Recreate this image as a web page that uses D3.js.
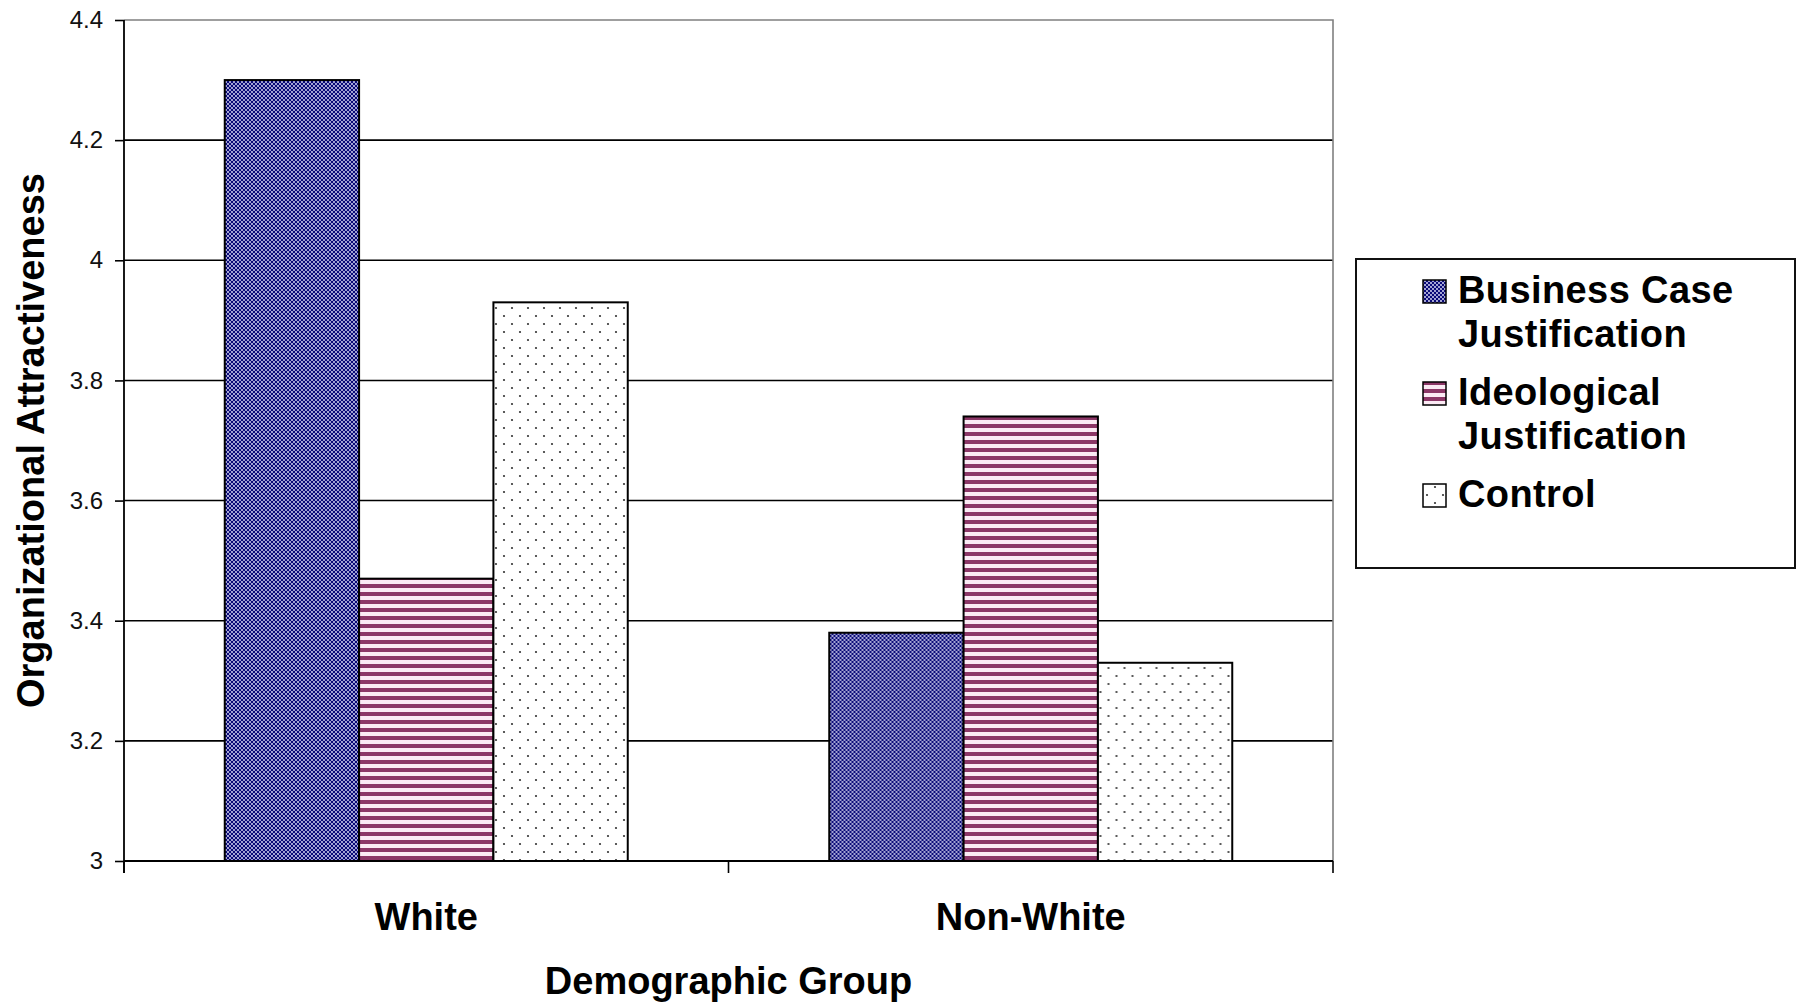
<!DOCTYPE html>
<html>
<head>
<meta charset="utf-8">
<script src="https://cdn.jsdelivr.net/npm/d3@7"></script>
<style>
  html, body { margin: 0; padding: 0; background: #fff; }
  svg { display: block; font-family: "Liberation Sans", Arial, sans-serif; }
</style>
</head>
<body>
<svg id="chart" width="1797" height="1003"></svg>
<script>
// Mean organizational attractiveness by demographic group and justification condition
const categories = ["White", "Non-White"];
const series = ["Business Case Justification", "Ideological Justification", "Control"];
const businessCase = [4.30, 3.38];
const ideological = [3.47, 3.74];
const control = [3.93, 3.33];
const yTicks = [3, 3.2, 3.4, 3.6, 3.8, 4, 4.2, 4.4];
const yTickLabels = ["3", "3.2", "3.4", "3.6", "3.8", "4", "4.2", "4.4"];
const legendLines = [["Business Case", "Justification"], ["Ideological", "Justification"], ["Control"]];
const yTitle = "Organizational Attractiveness";
const xTitle = "Demographic Group";

const seriesValues = [businessCase, ideological, control];
const rows = categories.map((c, i) => ({
  category: c,
  values: series.map((s, j) => ({ key: s, idx: j, value: seriesValues[j][i] }))
}));

const svg = d3.select("#chart");
const plot = { left: 124, right: 1333, top: 20, bottom: 861 };

// Fill patterns for the three conditions
const defs = svg.append("defs");
const pDiamond = defs.append("pattern").attr("id", "pat0")
  .attr("patternUnits", "userSpaceOnUse").attr("width", 4).attr("height", 4);
pDiamond.append("rect").attr("width", 4).attr("height", 4).attr("fill", "#0a0a78");
[[0, 0], [4, 0], [0, 4], [4, 4], [2, 2]].forEach(([cx, cy]) =>
  pDiamond.append("circle").attr("cx", cx).attr("cy", cy).attr("r", 0.9).attr("fill", "#ececff"));

const pStripe = defs.append("pattern").attr("id", "pat1")
  .attr("patternUnits", "userSpaceOnUse").attr("width", 8).attr("height", 8);
pStripe.append("rect").attr("width", 8).attr("height", 8).attr("fill", "#fbeaf4");
pStripe.append("rect").attr("y", 0).attr("width", 8).attr("height", 4).attr("fill", "#8c3767");

const pDots = defs.append("pattern").attr("id", "pat2")
  .attr("patternUnits", "userSpaceOnUse").attr("width", 16).attr("height", 16);
pDots.append("rect").attr("width", 16).attr("height", 16).attr("fill", "#ffffff");
[[4, 4], [12, 12]].forEach(([cx, cy]) =>
  pDots.append("circle").attr("cx", cx).attr("cy", cy).attr("r", 1.1).attr("fill", "#333"));

// Scales
const y = d3.scaleLinear().domain([3, 4.4]).range([plot.bottom, plot.top]);
const x0 = d3.scaleBand().domain(categories).range([plot.left, plot.right]).padding(0);
const x1 = d3.scaleBand().domain(series).range([0, x0.bandwidth()])
  .paddingInner(0).paddingOuter(0.75);

// Gridlines
svg.append("g").selectAll("line").data(yTicks.slice(0, -1)).join("line")
  .attr("x1", plot.left).attr("x2", plot.right)
  .attr("y1", d => y(d)).attr("y2", d => y(d))
  .attr("stroke", "#000").attr("stroke-width", 1.6);

// Plot frame (top and right)
svg.append("path")
  .attr("d", `M${plot.left},${y(4.4)}H${plot.right}V${plot.bottom}`)
  .attr("fill", "none").attr("stroke", "#808080").attr("stroke-width", 1.6);

// Bars
svg.append("g").selectAll("g").data(rows).join("g")
  .attr("transform", d => `translate(${x0(d.category)},0)`)
  .selectAll("rect").data(d => d.values).join("rect")
  .attr("x", d => x1(d.key))
  .attr("y", d => y(d.value))
  .attr("width", x1.bandwidth())
  .attr("height", d => y(3) - y(d.value))
  .attr("fill", d => `url(#pat${d.idx})`)
  .attr("stroke", "#000").attr("stroke-width", 2);

// Y axis
const yAxis = d3.axisLeft(y).tickValues(yTicks)
  .tickFormat((d, i) => yTickLabels[i]).tickSize(9).tickPadding(12);
const gy = svg.append("g").attr("transform", `translate(${plot.left},0)`).call(yAxis);
gy.select(".domain").attr("stroke", "#000").attr("stroke-width", 1.8)
  .attr("d", `M0,${plot.top}V${plot.bottom + 12}`);
gy.selectAll(".tick line").attr("stroke", "#000").attr("stroke-width", 1.6);
gy.selectAll(".tick text").attr("font-size", 24).attr("fill", "#111")
  .attr("font-family", "'Liberation Sans', Arial, sans-serif");

// X axis with tick marks on category boundaries
const gx = svg.append("g").attr("transform", `translate(0,${plot.bottom})`);
gx.append("line").attr("x1", plot.left).attr("x2", plot.right)
  .attr("stroke", "#000").attr("stroke-width", 1.8);
const boundaries = categories.map(c => x0(c)).concat([x0(categories[categories.length - 1]) + x0.bandwidth()]);
gx.selectAll("line.tk").data(boundaries).join("line").attr("class", "tk")
  .attr("x1", d => d).attr("x2", d => d).attr("y1", 0).attr("y2", 12)
  .attr("stroke", "#000").attr("stroke-width", 1.6);
gx.selectAll("text").data(categories).join("text")
  .attr("x", d => x0(d) + x0.bandwidth() / 2).attr("y", 69)
  .attr("text-anchor", "middle").attr("font-size", 38).attr("font-weight", "bold")
  .attr("fill", "#000").text(d => d);

// Axis titles
svg.append("text")
  .attr("x", (plot.left + plot.right) / 2).attr("y", 994)
  .attr("text-anchor", "middle").attr("font-size", 38).attr("font-weight", "bold")
  .text(xTitle);
svg.append("text")
  .attr("transform", `translate(44,${(plot.top + plot.bottom) / 2}) rotate(-90)`)
  .attr("text-anchor", "middle").attr("font-size", 38).attr("font-weight", "bold")
  .text(yTitle);

// Legend
const legend = svg.append("g");
legend.append("rect").attr("x", 1356).attr("y", 259).attr("width", 439).attr("height", 309)
  .attr("fill", "#fff").attr("stroke", "#111").attr("stroke-width", 2);
const items = legend.selectAll("g.item").data(series).join("g").attr("class", "item")
  .attr("transform", (d, i) => `translate(1423,${303 + i * 102})`);
items.append("rect").attr("x", 0).attr("y", -23).attr("width", 23).attr("height", 23)
  .attr("fill", (d, i) => `url(#pat${i})`).attr("stroke", "#000").attr("stroke-width", 1.5);
items.append("text").attr("x", 35).attr("font-size", 38).attr("font-weight", "bold")
  .attr("letter-spacing", 0.4)
  .selectAll("tspan").data((d, i) => legendLines[i]).join("tspan")
  .attr("x", 35).attr("dy", (d, k) => k === 0 ? 0 : 44).text(d => d);
</script>
</body>
</html>
